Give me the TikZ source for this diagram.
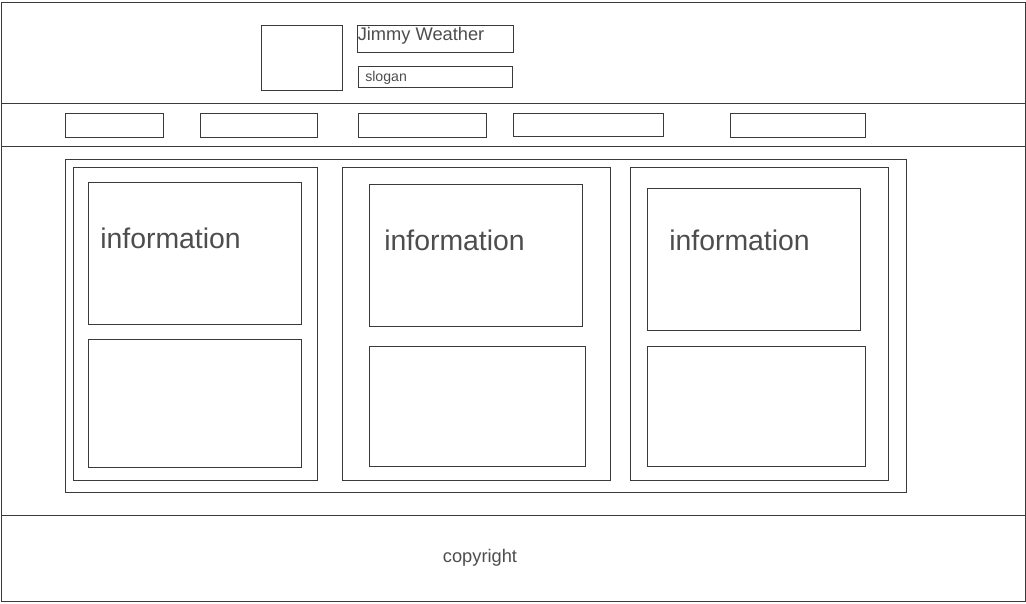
\documentclass[tikz,border=0pt]{standalone}
\usepackage{fontspec}
\setmainfont{Liberation Sans}
\definecolor{wire}{HTML}{3A3A3A}
\definecolor{ink}{HTML}{4D4D4D}
% wireframe box given by its top-left and bottom-right pixel corners
\newcommand\wbox[5]{%
  \pgfmathsetmacro\bw{(#4-#2)*0.75}%
  \pgfmathsetmacro\bh{(#5-#3)*0.75}%
  \node[wbox, minimum width=\bw pt, minimum height=\bh pt] (#1) at ({(#2+#4)/2},{(#3+#5)/2}) {};}
\begin{document}
\begin{tikzpicture}[x=0.75pt, y=-0.75pt,
  wbox/.style={draw=wire, line width=0.75pt, inner sep=0pt, outer sep=0pt, rectangle},
  rule/.style={draw=wire, line width=0.75pt},
  label/.style={text=ink, inner sep=0pt, anchor=west}]
\useasboundingbox (0,0) rectangle (1026,604);
% page frame and band separators
\wbox{page}{1}{2}{1025}{601}
\coordinate (h1l) at (1,103);  \coordinate (h1r) at (1025,103);
\coordinate (h2l) at (1,146);  \coordinate (h2r) at (1025,146);
\coordinate (h3l) at (1,515);  \coordinate (h3r) at (1025,515);
\draw[rule] (h1l) -- (h1r);
\draw[rule] (h2l) -- (h2r);
\draw[rule] (h3l) -- (h3r);
% header
\wbox{logo}{261}{25}{342}{90}
\wbox{name}{357}{25}{513}{52}
\wbox{slogan}{358}{66}{512}{87}
\node[label, font=\fontsize{13.7}{16}\selectfont] (nametext) at (357.5,36) {Jimmy Weather};
\node[label, font=\fontsize{10.6}{12}\selectfont] (slogantext) at (365,78) {slogan};
% navigation
\wbox{nav1}{65}{113}{163}{137}
\wbox{nav2}{200}{113}{317}{137}
\wbox{nav3}{358}{113}{486}{137}
\wbox{nav4}{513}{113}{663}{136}
\wbox{nav5}{730}{113}{865}{137}
% content area
\wbox{content}{65}{159}{906}{492}
\wbox{col1}{73}{167}{317}{480}
\wbox{col1top}{88}{182}{301}{324}
\wbox{col1bot}{88}{339}{301}{467}
\wbox{col2}{342}{167}{610}{480}
\wbox{col2top}{369}{184}{582}{326}
\wbox{col2bot}{369}{346}{585}{466}
\wbox{col3}{630}{167}{888}{480}
\wbox{col3top}{647}{188}{860}{330}
\wbox{col3bot}{647}{346}{865}{466}
\node[label, font=\fontsize{21.3}{25}\selectfont] (info1) at (100,238) {information};
\node[label, font=\fontsize{21.3}{25}\selectfont] (info2) at (384,240) {information};
\node[label, font=\fontsize{21.3}{25}\selectfont] (info3) at (669,240) {information};
% footer
\node[text=ink, inner sep=0pt, font=\fontsize{13.7}{16}\selectfont] (copy) at (480,558) {copyright};
\end{tikzpicture}
\end{document}
